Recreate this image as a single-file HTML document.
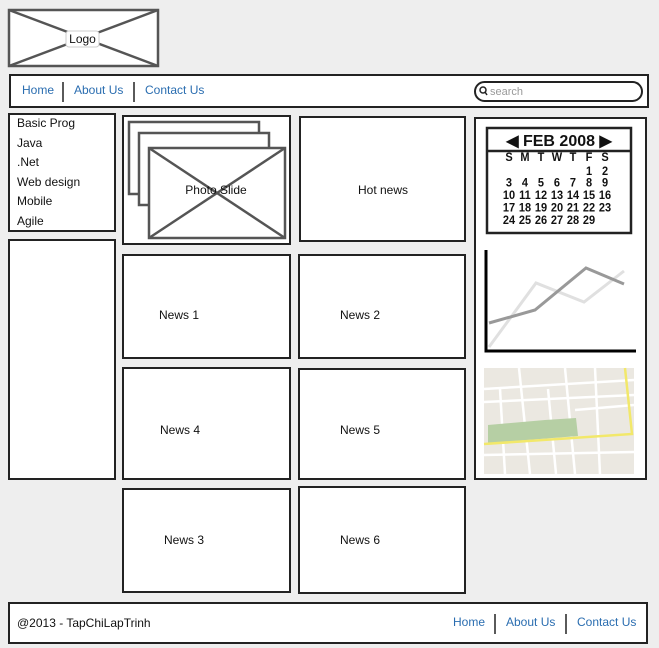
<!DOCTYPE html>
<html><head><meta charset="utf-8"><style>
html,body{margin:0;padding:0;background:#eeeeee;}
svg{display:block;}
text{font-family:"Liberation Sans",sans-serif;}
</style></head><body>
<svg width="659" height="648" viewBox="0 0 659 648" xmlns="http://www.w3.org/2000/svg">
<rect width="659" height="648" fill="#eeeeee"/>
<!-- Logo -->
<rect x="9" y="10" width="149" height="56" fill="#fff" stroke="#555" stroke-width="2.5"/>
<line x1="9" y1="10" x2="158" y2="66" stroke="#555" stroke-width="2.5"/>
<line x1="158" y1="10" x2="9" y2="66" stroke="#555" stroke-width="2.5"/>
<rect x="66" y="31" width="33" height="16" rx="3" fill="#fff" stroke="#ccc"/>
<text x="82.5" y="43" font-size="12" text-anchor="middle" fill="#111">Logo</text>
<!-- Nav -->
<rect x="10" y="75" width="638" height="32" fill="#fff" stroke="#222" stroke-width="2"/>
<g font-size="12" fill="#2a6db0">
<text x="22" y="94">Home</text><text x="74" y="94">About Us</text><text x="145" y="94">Contact Us</text></g>
<line x1="63" y1="82" x2="63" y2="102" stroke="#222" stroke-width="1.5"/>
<line x1="134" y1="82" x2="134" y2="102" stroke="#222" stroke-width="1.5"/>
<rect x="475" y="82" width="167" height="19" rx="9.5" fill="#fff" stroke="#222" stroke-width="2"/>
<circle cx="483" cy="90" r="3" fill="none" stroke="#222" stroke-width="1.5"/>
<line x1="485" y1="92" x2="487" y2="95" stroke="#222" stroke-width="1.5"/>
<text x="490" y="95" font-size="11" fill="#999">search</text>
<!-- Left menu -->
<rect x="9" y="114" width="106" height="117" fill="#fff" stroke="#222" stroke-width="2"/>
<g font-size="12" fill="#111">
<text x="17" y="127">Basic Prog</text><text x="17" y="147">Java</text><text x="17" y="166">.Net</text>
<text x="17" y="186">Web design</text><text x="17" y="205">Mobile</text><text x="17" y="225">Agile</text></g>
<rect x="9" y="240" width="106" height="239" fill="#fff" stroke="#222" stroke-width="2"/>
<!-- Photo slide -->
<rect x="123" y="116" width="167" height="128" fill="#fff" stroke="#222" stroke-width="2"/>
<rect x="129" y="122" width="130" height="72" fill="#fff" stroke="#555" stroke-width="2.5"/>
<rect x="139" y="133" width="130" height="72" fill="#fff" stroke="#555" stroke-width="2.5"/>
<rect x="149" y="148" width="136" height="90" fill="#fff" stroke="#555" stroke-width="2.5"/>
<line x1="149" y1="148" x2="285" y2="238" stroke="#555" stroke-width="2.5"/>
<line x1="285" y1="148" x2="149" y2="238" stroke="#555" stroke-width="2.5"/>
<text x="216" y="194" font-size="12" text-anchor="middle" fill="#111">Photo Slide</text>
<!-- News boxes -->
<g fill="#fff" stroke="#222" stroke-width="2">
<rect x="300" y="117" width="165" height="124"/>
<rect x="123" y="255" width="167" height="103"/>
<rect x="299" y="255" width="166" height="103"/>
<rect x="123" y="368" width="167" height="111"/>
<rect x="299" y="369" width="166" height="110"/>
<rect x="123" y="489" width="167" height="103"/>
<rect x="299" y="487" width="166" height="106"/>
</g>
<g font-size="12" fill="#111" text-anchor="middle">
<text x="383" y="194">Hot news</text>
<text x="179" y="319">News 1</text><text x="360" y="319">News 2</text>
<text x="180" y="434">News 4</text><text x="360" y="434">News 5</text>
<text x="184" y="544">News 3</text><text x="360" y="544">News 6</text></g>
<!-- Right column -->
<rect x="475" y="118" width="171" height="361" fill="#fff" stroke="#222" stroke-width="2"/>
<rect x="487" y="128" width="144" height="105" fill="#fff" stroke="#222" stroke-width="2.5"/>
<line x1="487" y1="151" x2="631" y2="151" stroke="#222" stroke-width="2.5"/>
<text x="559" y="146" font-size="16" font-weight="bold" text-anchor="middle" fill="#111">◀ FEB 2008 ▶</text>
<g font-size="11" font-weight="bold" fill="#111" text-anchor="middle" transform="translate(0,-10) scale(1,1.05)">
<text x="509" y="163">S</text><text x="525" y="163">M</text><text x="541" y="163">T</text><text x="557" y="163">W</text><text x="573" y="163">T</text><text x="589" y="163">F</text><text x="605" y="163">S</text>
<text x="589" y="176">1</text><text x="605" y="176">2</text>
<text x="509" y="187">3</text><text x="525" y="187">4</text><text x="541" y="187">5</text><text x="557" y="187">6</text><text x="573" y="187">7</text><text x="589" y="187">8</text><text x="605" y="187">9</text>
<text x="509" y="199">10</text><text x="525" y="199">11</text><text x="541" y="199">12</text><text x="557" y="199">13</text><text x="573" y="199">14</text><text x="589" y="199">15</text><text x="605" y="199">16</text>
<text x="509" y="211">17</text><text x="525" y="211">18</text><text x="541" y="211">19</text><text x="557" y="211">20</text><text x="573" y="211">21</text><text x="589" y="211">22</text><text x="605" y="211">23</text>
<text x="509" y="223">24</text><text x="525" y="223">25</text><text x="541" y="223">26</text><text x="557" y="223">27</text><text x="573" y="223">28</text><text x="589" y="223">29</text></g>
<!-- Chart -->
<polyline points="489,347 536,283 584,302 624,271" fill="none" stroke="#e0e0e0" stroke-width="3"/>
<polyline points="489,323 535,310 586,268 624,284" fill="none" stroke="#999" stroke-width="3"/>
<polyline points="486,250 486,351 636,351" fill="none" stroke="#000" stroke-width="3"/>
<!-- Map -->
<rect x="484" y="368" width="150" height="106" fill="#ebe8e1"/>
<g stroke="#fff" stroke-width="2.5" fill="none">
<line x1="484" y1="389" x2="634" y2="380"/><line x1="484" y1="402" x2="634" y2="395"/>
<line x1="575" y1="410" x2="634" y2="405"/><line x1="484" y1="455" x2="634" y2="452"/>
<line x1="519" y1="368" x2="530" y2="474"/><line x1="565" y1="368" x2="575" y2="474"/>
<line x1="500" y1="389" x2="505" y2="474"/><line x1="548" y1="389" x2="556" y2="474"/>
<line x1="595" y1="368" x2="600" y2="474"/></g>
<polygon points="488,425 545,420 576,418 578,436 488,443" fill="#b6cfa4"/>
<polyline points="484,444 632,434 625,368" fill="none" stroke="#f2e86a" stroke-width="2.5"/>
<!-- Footer -->
<rect x="9" y="603" width="638" height="40" fill="#fff" stroke="#222" stroke-width="2"/>
<text x="17" y="627" font-size="12" fill="#111">@2013 - TapChiLapTrinh</text>
<g font-size="12" fill="#2a6db0"><text x="453" y="626">Home</text><text x="506" y="626">About Us</text><text x="577" y="626">Contact Us</text></g>
<line x1="495" y1="614" x2="495" y2="634" stroke="#222" stroke-width="1.5"/>
<line x1="566" y1="614" x2="566" y2="634" stroke="#222" stroke-width="1.5"/>
</svg>
</body></html>
